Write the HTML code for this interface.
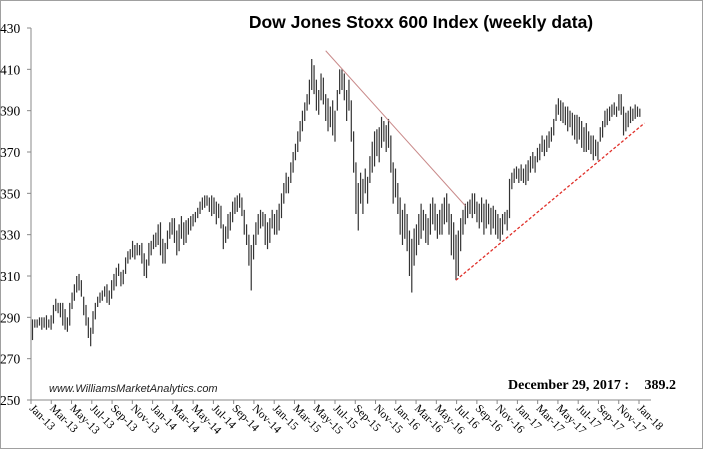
<!DOCTYPE html>
<html><head><meta charset="utf-8"><style>
html,body{margin:0;padding:0;background:#fff}
svg{display:block}
</style></head><body>
<svg id="chart" width="703" height="449" viewBox="0 0 703 449" xmlns="http://www.w3.org/2000/svg">
<rect x="0.5" y="0.5" width="702" height="448" fill="#fff" stroke="#a0a0a0"/>
<text x="421" y="28" text-anchor="middle" font-family="Liberation Sans, sans-serif" font-weight="bold" font-size="17.5" fill="#000">Dow Jones Stoxx 600 Index (weekly data)</text>
<g id="yaxis"></g>
<g id="xaxis"></g>
<g id="bars"></g>
<g id="trends"></g>
<text x="49" y="392" font-family="Liberation Sans, sans-serif" font-style="italic" font-size="11" fill="#222">www.WilliamsMarketAnalytics.com</text>
<text x="508" y="389" font-family="Liberation Serif, serif" font-weight="bold" font-size="14" fill="#000">December 29, 2017 :</text>
<text x="676" y="389" text-anchor="end" font-family="Liberation Serif, serif" font-weight="bold" font-size="14" fill="#000">389.2</text>
</svg>
<script>
const yTicks = [250,270,290,310,330,350,370,390,410,430];
const xTickLabels = ["Jan-13","Mar-13","May-13","Jul-13","Sep-13","Nov-13","Jan-14","Mar-14","May-14","Jul-14","Sep-14","Nov-14","Jan-15","Mar-15","May-15","Jul-15","Sep-15","Nov-15","Jan-16","Mar-16","May-16","Jul-16","Sep-16","Nov-16","Jan-17","Mar-17","May-17","Jul-17","Sep-17","Nov-17","Jan-18"];
const lows = [279,285,285,286,284, 285,284,285,284, 287,293,292,290, 286,284,283,286, 294,298,302,303,300, 291,286,280,276, 282,289,295,297, 298,300,297,296,299, 303,305,310,305, 306,311,316,318, 319,318,320,320,316, 310,309,315,320,
 323,324,325,320,316, 316,323,328,330, 326,320,322,328, 325,326,330,332, 334,336,338,340,342, 343,344,341,339, 340,335,338,333, 323,326,328,332,336, 340,341,343,339, 330,325,315,303,318, 325,330,333,334, 325,323,326,333,330,
 330,332,338,345,350, 350,355,360,366, 370,375,380,385, 390,393,400,398, 390,388,395,393, 385,380,382,378, 375,390,398,400,395, 385,390,375,360,340, 332,345,340,350, 345,355,360,363,368, 365,372,375,370, 372,360,345,348,
 340,330,325,328,322, 310,302,315,320, 325,328,332,326, 325,330,335,332, 328,330,330,335,336, 330,320,318,308, 310,322,330,335, 338,340,338,340,336, 333,336,330,333, 335,330,333,330,328, 327,330,335,332, 338,352,355,357,
 355,356,355,354, 356,360,362,360, 365,366,370,368, 370,372,375,378, 385,388,385,384,383, 380,382,378,376, 374,376,372,370,370, 371,369,366,368,366, 375,377,382,383, 385,387,388,387,390, 388,378,380,382, 384,385,386,387,387];
const highs = [289,289,289,290,290, 290,291,289,291, 296,299,297,297, 297,294,290,297, 302,306,310,311,308, 300,296,290,285, 293,297,300,302, 303,305,306,303,308, 311,314,316,312, 313,319,322,323, 327,325,326,325,326, 321,318,326,327,
 330,331,335,336,328, 326,332,336,338, 338,332,335,339, 336,337,338,339, 340,341,343,346,348, 349,349,348,349, 348,346,345,344, 335,334,340,341,346, 348,349,350,348, 342,335,330,325,330, 336,340,342,341, 340,336,338,342,340,
 342,345,350,355,360, 358,365,370,374, 380,385,390,394, 398,405,415,412, 405,400,408,406, 398,396,392,395, 390,400,410,410,408, 400,405,395,380,365, 355,360,357,362, 358,368,375,380,381, 382,387,385,383, 386,378,365,362,
 355,348,342,345,340, 332,328,333,335, 340,345,342,340, 338,345,348,345, 340,342,345,348,350, 345,340,336,330, 332,338,342,345, 346,347,350,350,346, 345,348,345,347, 345,343,344,342,340, 338,340,341,342, 357,360,362,363,
 362,364,362,364, 366,368,370,368, 372,374,378,376, 378,380,382,386, 393,396,395,394,392, 392,390,389,388, 388,387,385,382,384, 380,378,378,376,375, 382,385,390,391, 392,393,394,392,398, 398,392,389,390, 392,391,393,392,391];
const downTrend = [[126,419],[186,344]];
const upTrend = [[182,308],[263,384]];

const NS = "http://www.w3.org/2000/svg";
const X0 = 31, X1 = 639, Y0 = 400, Y1 = 28;
const n = lows.length;
function yS(v){ return Y0 - (v - 250) * (Y0 - Y1) / 180; }
function xT(i){ return X0 + i * (X1 - X0) / (xTickLabels.length - 1); }
function xB(i){ return X0 + 1.5 + i * (X1 - X0 - 3) / 260; }
function mk(tag, attrs, parent){ const e = document.createElementNS(NS, tag); for (const k in attrs) e.setAttribute(k, attrs[k]); parent.appendChild(e); return e; }

const ya = document.getElementById('yaxis');
const ax = mk('line', {x1:X0, y1:Y1, x2:X0, y2:Y0, stroke:'#888', 'stroke-width':1}, ya);


yTicks.forEach(v => {
  const t = mk('line', {x1:X0-4, y1:yS(v), x2:X0, y2:yS(v), stroke:'#888'}, ya);
  
  
  const l = mk('text', {x:0, y:yS(v)+5, 'font-family':'Liberation Serif, serif', 'font-size':13.5, fill:'#000'}, ya);
  l.textContent = v;
  
  
});

const xa = document.getElementById('xaxis');
const xl = mk('line', {x1:X0, y1:Y0, x2:651, y2:Y0, stroke:'#888'}, xa);


xTickLabels.forEach((s, i) => {
  const x = xT(i);
  const t = mk('line', {x1:x, y1:Y0, x2:x, y2:Y0+4, stroke:'#888'}, xa);
  
  
  const l = mk('text', {x:x-2, y:Y0+9, transform:`rotate(45 ${x-2} ${Y0+9})`, 'font-family':'Liberation Serif, serif', 'font-size':11.5, fill:'#000'}, xa);
  l.textContent = s;
  
  
});

const bg = document.getElementById('bars');
for (let i = 0; i < n; i++) {
  const x = xB(i);
  const b = mk('line', {x1:x, y1:yS(highs[i]), x2:x, y2:yS(lows[i]), stroke:'#333', 'stroke-width':1.2}, bg);
  
  
}

const tg = document.getElementById('trends');
const d = mk('line', {x1:xB(downTrend[0][0]), y1:yS(downTrend[0][1]), x2:xB(downTrend[1][0]), y2:yS(downTrend[1][1]), stroke:'#c98a8a', 'stroke-width':1}, tg);


const u = mk('line', {x1:xB(upTrend[0][0]), y1:yS(upTrend[0][1]), x2:xB(upTrend[1][0]), y2:yS(upTrend[1][1]), stroke:'#e0302a', 'stroke-width':1.3, 'stroke-dasharray':'3,2'}, tg);


</script>
</body></html>
